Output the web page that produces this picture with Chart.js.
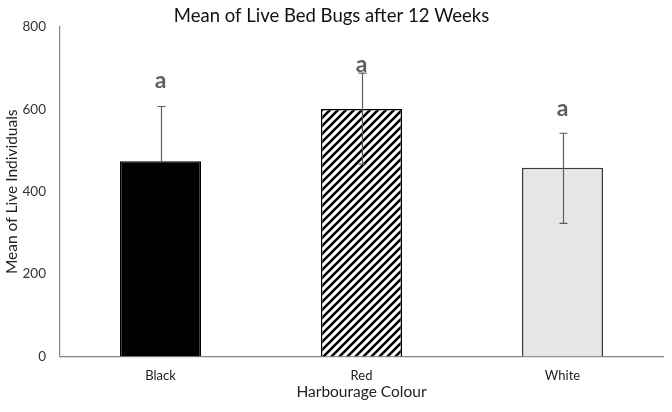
<!DOCTYPE html>
<html>
<head>
<meta charset="utf-8">
<script src="https://cdn.jsdelivr.net/npm/chart.js@4"></script>
<style>
  html, body { margin: 0; padding: 0; background: #fff; }
  .wrap { width: 672px; height: 412px; }
</style>
</head>
<body>
<div class="wrap"><canvas id="myChart"></canvas></div>
<script>
// data
const colours = ['Black', 'Red', 'White'];
const meanLive = [474, 601, 458];
const errTop = [607, 688, 542];
const errBottom = [null, 467, 323]; // black one is hidden inside the bar
const letters = ['a', 'a', 'a'];
const letterAt = [669, 709, 602];
const yTicks = [0, 200, 400, 600, 800];

const font = 'Lato, "Open Sans", sans-serif';
Chart.defaults.font.family = font;

// diagonal hatch for the red bar
function hatch() {
  const c = document.createElement('canvas');
  c.width = 8; c.height = 8;
  const g = c.getContext('2d');
  g.fillStyle = '#fff';
  g.fillRect(0, 0, 8, 8);
  g.strokeStyle = '#000';
  g.lineWidth = 2.6;
  g.beginPath();
  g.moveTo(-2, 10); g.lineTo(10, -2);
  g.moveTo(-6, 6); g.lineTo(6, -6);
  g.moveTo(2, 14); g.lineTo(14, 2);
  g.stroke();
  return g.createPattern(c, 'repeat');
}

// error bars + letters on top of the bars
const extras = {
  id: 'extras',
  afterDatasetsDraw(chart) {
    const ctx = chart.ctx;
    const y = chart.scales.y;
    const bars = chart.getDatasetMeta(0).data;
    ctx.save();
    ctx.strokeStyle = '#5e5e5e';
    ctx.lineWidth = 1.2;
    bars.forEach((bar, i) => {
      const x = Math.round(bar.x) + 0.5;
      const yTop = y.getPixelForValue(errTop[i]);
      const yLow = errBottom[i] == null ? bar.y : y.getPixelForValue(errBottom[i]);
      ctx.beginPath();
      ctx.moveTo(x, yTop); ctx.lineTo(x, yLow);
      ctx.moveTo(x - 4, yTop); ctx.lineTo(x + 4, yTop);
      if (errBottom[i] != null) {
        ctx.moveTo(x - 4, yLow); ctx.lineTo(x + 4, yLow);
      }
      ctx.stroke();
    });
    ctx.fillStyle = '#5f5f5f';
    ctx.font = 'bold 23px ' + font;
    ctx.textAlign = 'center';
    ctx.textBaseline = 'middle';
    bars.forEach((bar, i) => {
      ctx.fillText(letters[i], bar.x, y.getPixelForValue(letterAt[i]));
    });
    ctx.restore();
  }
};

const ctx = document.getElementById('myChart');

new Chart(ctx, {
  type: 'bar',
  data: {
    labels: colours,
    datasets: [{
      label: 'Mean of Live Individuals',
      data: meanLive,
      backgroundColor: ['#000000', hatch(), '#e6e6e6'],
      borderColor: ['#000000', '#000000', '#3a3a3a'],
      borderWidth: 1.5,
      barPercentage: 0.403,
      categoryPercentage: 1
    }]
  },
  options: {
    responsive: true,
    maintainAspectRatio: false,
    animation: false,
    layout: { padding: { left: 0, right: 9, top: 0, bottom: 0 } },
    scales: {
      x: {
        afterFit: s => { s.height = 55.5; },
        grid: { display: false, drawTicks: false },
        border: { color: '#868686', width: 1.2 },
        ticks: { color: '#222', font: { size: 13 }, padding: 12 },
        title: {
          display: true,
          text: 'Harbourage Colour',
          color: '#222',
          font: { size: 15.5 },
          padding: { top: 0, bottom: 10.5 }
        }
      },
      y: {
        min: 0,
        max: 800,
        afterFit: s => { s.width = 60; },
        afterBuildTicks: s => { s.ticks = yTicks.map(v => ({ value: v })); },
        grid: { display: false, drawOnChartArea: false, drawTicks: true, tickLength: 5, tickColor: '#868686' },
        border: { color: '#868686', width: 1.2 },
        ticks: { color: '#333', font: { size: 13.5 }, padding: 9 },
        title: {
          display: true,
          text: 'Mean of Live Individuals',
          color: '#222',
          font: { size: 15.5 },
          padding: { top: 2.7, bottom: 0 }
        }
      }
    },
    plugins: {
      legend: { display: false },
      tooltip: { enabled: false },
      title: {
        display: true,
        text: 'Mean of Live Bed Bugs after 12 Weeks',
        color: '#111',
        font: { size: 18.5, weight: 'normal' },
        padding: { top: 4.8, bottom: 0 }
      }
    }
  },
  plugins: [extras]
});
</script>
</body>
</html>
